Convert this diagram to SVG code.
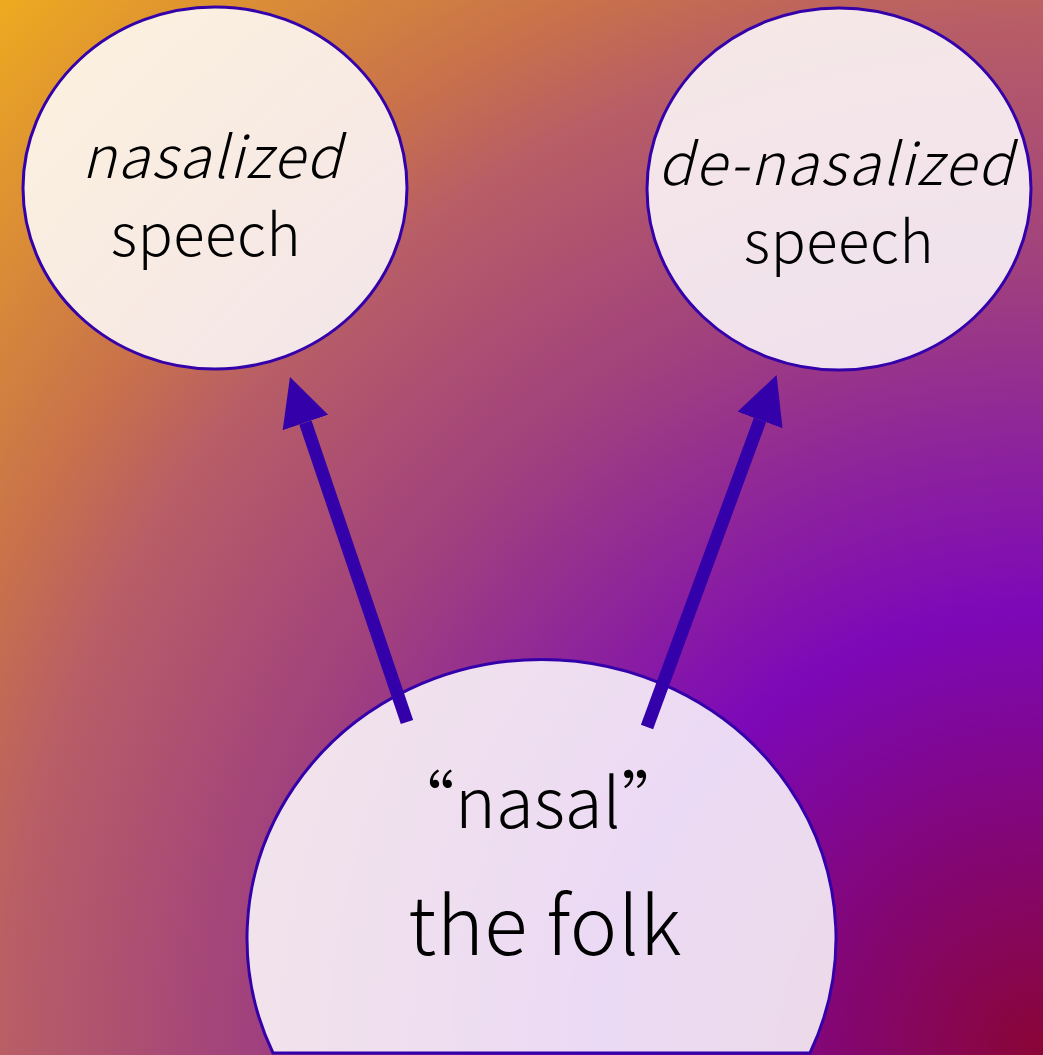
<svg xmlns="http://www.w3.org/2000/svg" width="1043" height="1055" viewBox="0 0 1043 1055">
  <defs>
    <radialGradient id="bg" cx="1043" cy="1055" r="1480" gradientUnits="userSpaceOnUse">
      <stop offset="0" stop-color="#8A0535"/>
      <stop offset="0.3" stop-color="#7C08B8"/>
      <stop offset="0.53" stop-color="#A0407E"/>
      <stop offset="0.7" stop-color="#B85E66"/>
      <stop offset="0.77" stop-color="#C8704C"/>
      <stop offset="1" stop-color="#EDAA20"/>
    </radialGradient>
    <marker id="head" markerUnits="userSpaceOnUse" markerWidth="50" markerHeight="50" refX="0" refY="24" orient="auto" viewBox="0 0 50 50">
      <path d="M0,0 L48,24 L0,48 Z" fill="#3300AA"/>
    </marker>
    <style>
      .node { fill: #ffffff; fill-opacity: 0.85; stroke: #3300AA; stroke-width: 3; }
      .lbl { font-family: "Noto Sans CJK SC", "Noto Sans", sans-serif; font-weight: 300; fill: #000; text-anchor: middle; }
      .it { font-style: italic; }
      .arrow { stroke: #3300AA; stroke-width: 13; fill: none; marker-end: url(#head); }
    </style>
  </defs>
  <rect x="0" y="0" width="1043" height="1055" fill="url(#bg)"/>
  <g id="node-nasalized">
    <ellipse class="node" cx="215" cy="188" rx="192" ry="181"/>
    <text class="lbl it" x="212" y="178" font-size="58" letter-spacing="1.6">nasalized</text>
    <text class="lbl" x="206" y="256" font-size="58" letter-spacing="0.6">speech</text>
  </g>
  <g id="node-denasalized">
    <ellipse class="node" cx="839" cy="189" rx="192" ry="181"/>
    <text class="lbl it" x="836" y="185" font-size="58" letter-spacing="2">de-nasalized</text>
    <text class="lbl" x="839" y="263" font-size="58" letter-spacing="0.6">speech</text>
  </g>
  <g id="node-folk">
    <path class="node" d="M273,1053 A294.5,279 0 1 1 810,1053 Z"/>
    <text class="lbl" x="538" y="828" font-size="69">“nasal”</text>
    <text class="lbl" x="545" y="955" font-size="80" letter-spacing="0.6">the folk</text>
  </g>
  <g id="connectors">
    <line class="arrow" x1="407" y1="722" x2="305.4" y2="422.5"/>
    <line class="arrow" x1="647" y1="727" x2="760" y2="420"/>
  </g>
</svg>
